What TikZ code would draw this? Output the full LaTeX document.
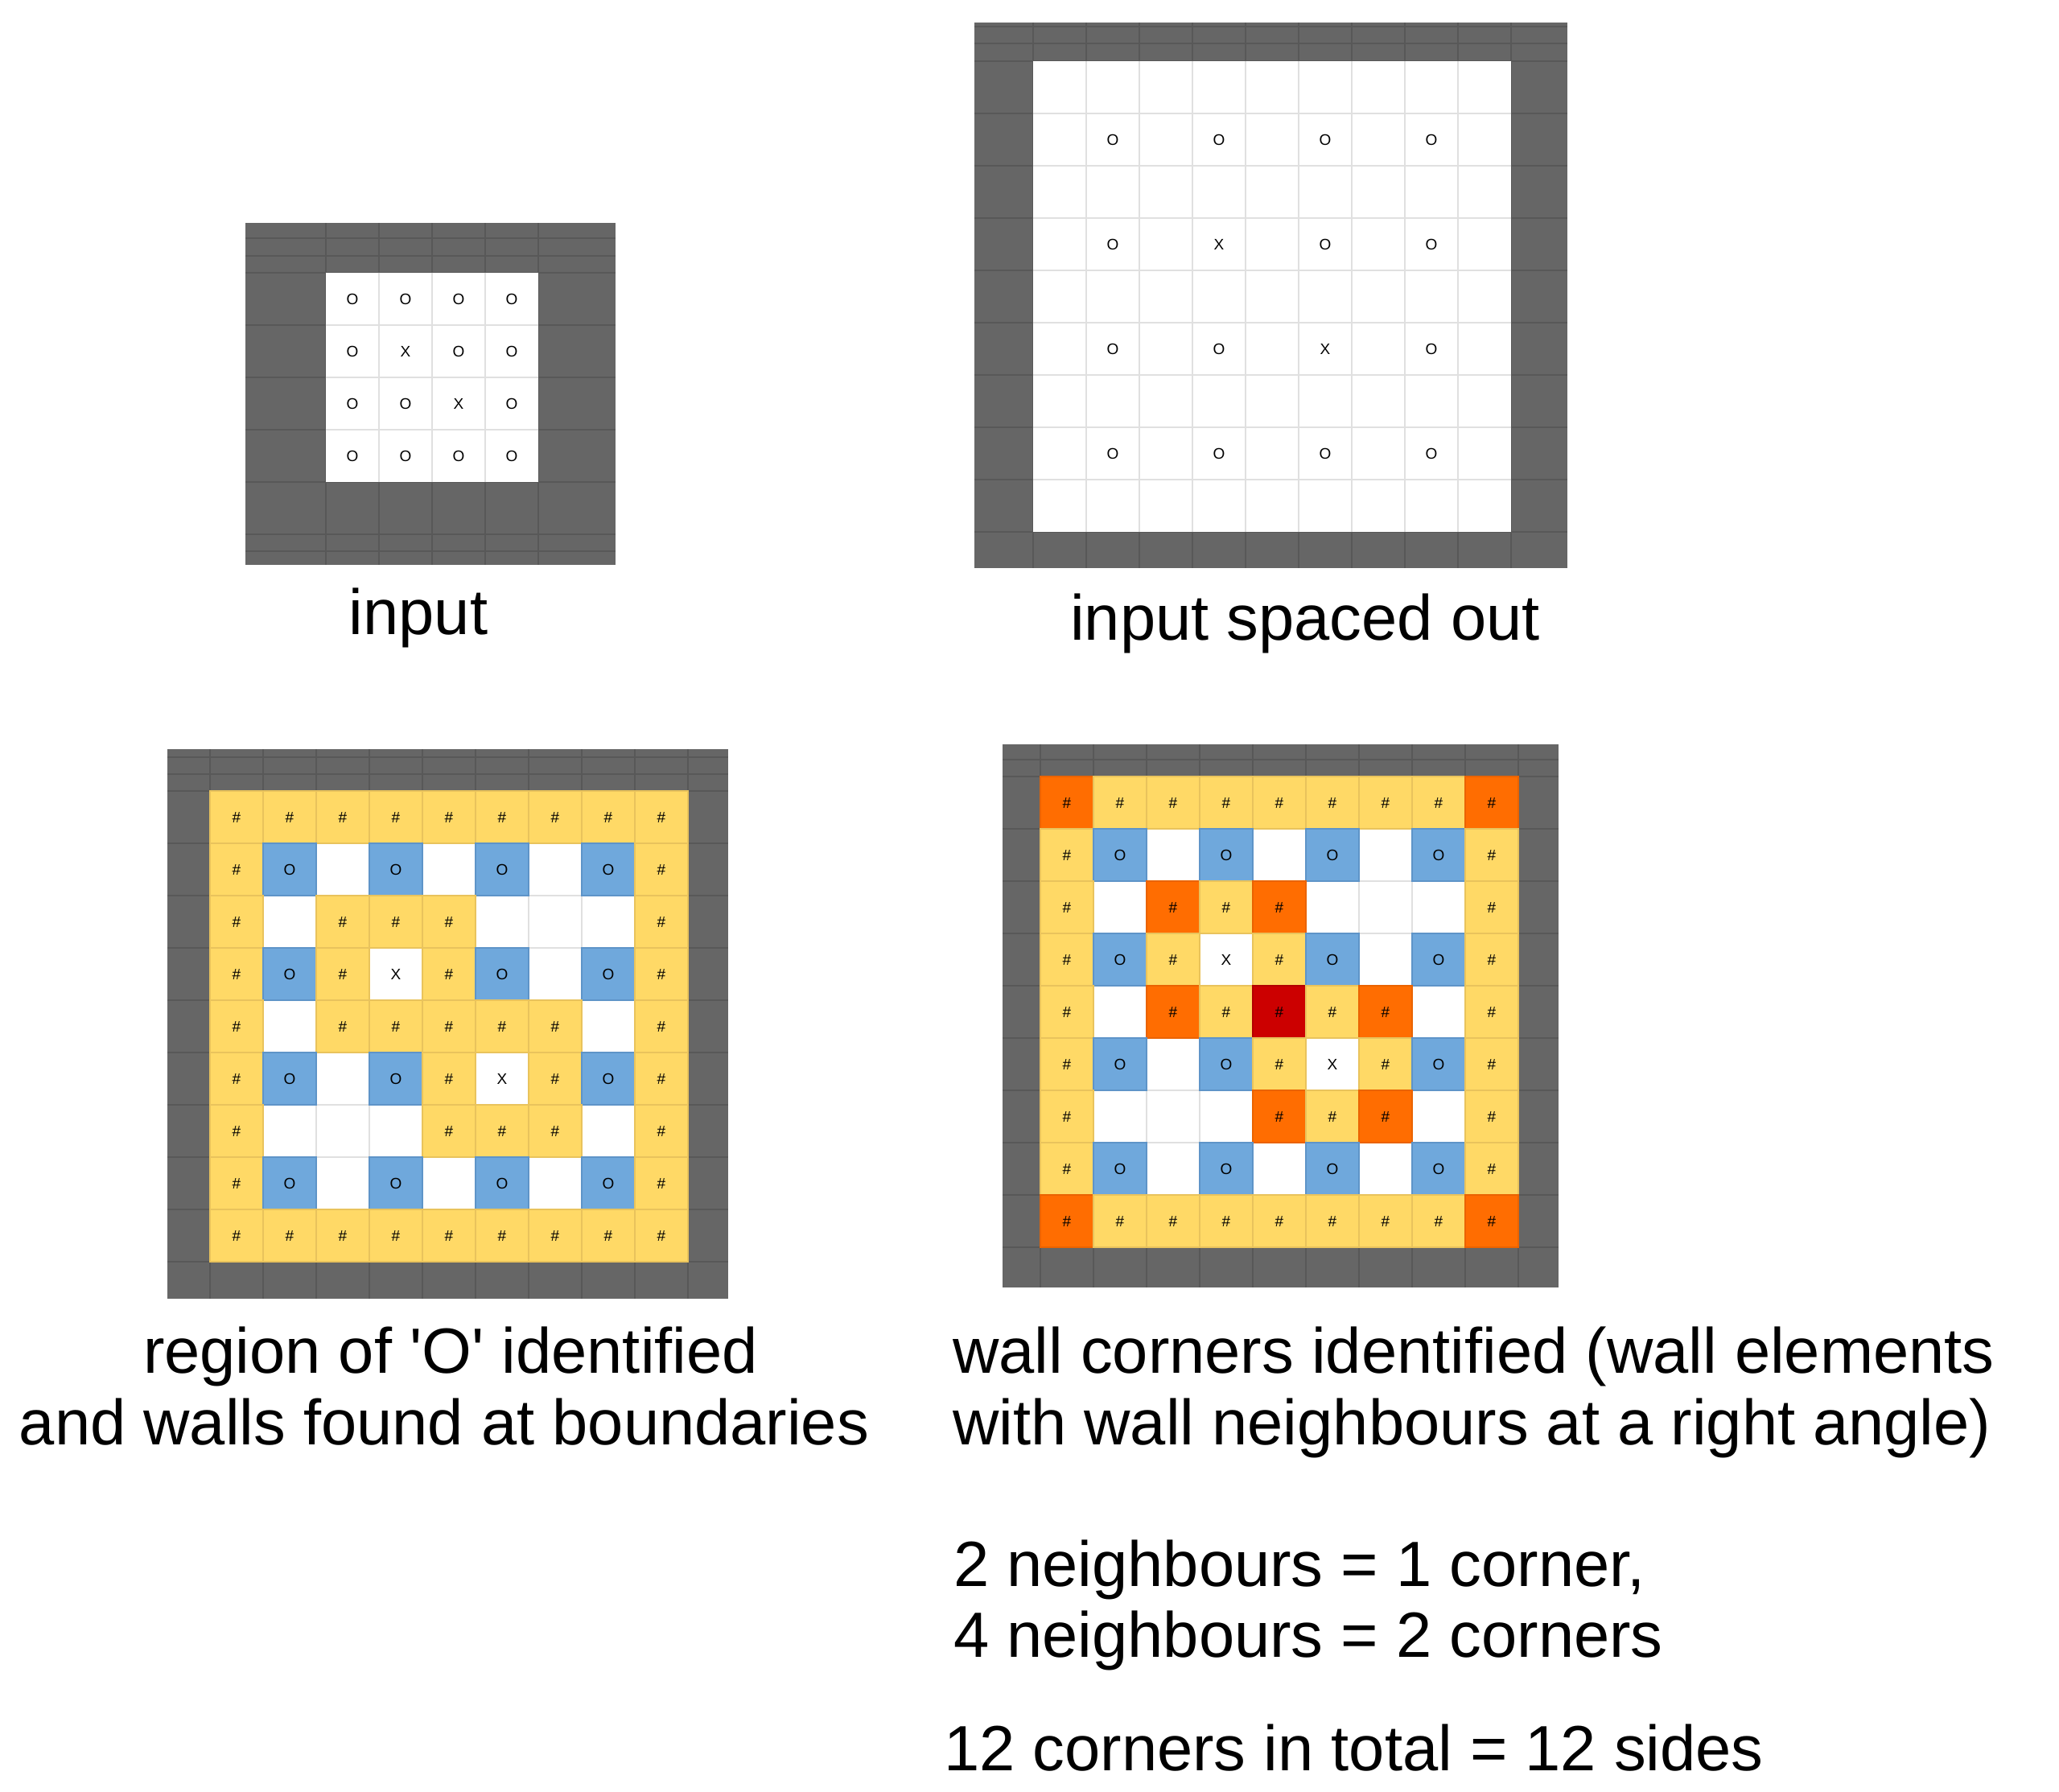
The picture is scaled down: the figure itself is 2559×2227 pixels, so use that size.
\documentclass[tikz,border=0pt]{standalone}
\usepackage{fontspec}
\setmainfont{Liberation Sans}
\newfontfamily\lbl{Liberation Sans}
\definecolor{dk}{HTML}{666666}
\definecolor{dkl}{HTML}{585858}
\definecolor{gl}{HTML}{E0E0E0}
\definecolor{yel}{HTML}{FFD966}
\definecolor{yelb}{HTML}{E9C35C}
\definecolor{blu}{HTML}{6FA8DC}
\definecolor{blub}{HTML}{5E94C8}
\definecolor{org}{HTML}{FF6D01}
\definecolor{orgb}{HTML}{EA6300}
\definecolor{drd}{HTML}{CC0000}
\definecolor{drdb}{HTML}{B30000}
\def\txtY{\#}\def\txtB{O}\def\txtX{X}\def\txtR{\#}\def\txtD{\#}
\begin{document}
\begin{tikzpicture}[x=1pt,y=-1pt,
  darkgrid/.style={draw=dkl, line width=1.2pt},
  lightgrid/.style={draw=gl, line width=1.3pt},
  cellY/.style={fill=yel, draw=yelb, line width=1.5pt},
  cellB/.style={fill=blu, draw=blub, line width=1.5pt},
  cellR/.style={fill=org, draw=orgb, line width=1.5pt},
  cellD/.style={fill=drd, draw=drdb, line width=1.5pt},
  cellW/.style={},
  cellX/.style={},
  celltxt/.style={font=\lbl\fontsize{19}{19}\selectfont, inner sep=0pt, text=black},
  biglabel/.style={font=\lbl\fontsize{79.5}{90}\selectfont, inner sep=0pt, text=black}]
\useasboundingbox (0,0) rectangle (2559,2227);
\fill[white] (0,0) rectangle (2559,2227);

% ---------- Panel 1: input ----------
\fill[dk] (305,277) rectangle (765,702);
\foreach \k in {0,...,4} {
  \draw[darkgrid] ({405+66*\k},277) -- ({405+66*\k},702);
  \draw[darkgrid] (305,{339+65*\k}) -- (765,{339+65*\k});
}
\foreach \yy in {296,318,664,685} \draw[darkgrid] (305,\yy) -- (765,\yy);
\fill[white] (405,339) rectangle (669,599);
\foreach \k in {1,...,3} {
  \draw[lightgrid] ({405+66*\k},339) -- ({405+66*\k},599);
  \draw[lightgrid] (405,{339+65*\k}) -- (669,{339+65*\k});
}
\foreach \row [count=\ri] in {{O,O,O,O},{O,X,O,O},{O,O,X,O},{O,O,O,O}}
  \foreach \ty [count=\ci] in \row
    \node[celltxt] (a-\ri-\ci) at ({405+66*(\ci-0.5)},{339+65*(\ri-0.5)}) {\ty};
\node[biglabel, anchor=base] (lab1) at (520,788) {input};

% ---------- Panel 2: input spaced out ----------
\fill[dk] (1211,28) rectangle (1948,706);
\foreach \k in {0,...,9} {
  \draw[darkgrid] ({1284+66*\k},28) -- ({1284+66*\k},706);
  \draw[darkgrid] (1211,{76+65*\k}) -- (1948,{76+65*\k});
}
\foreach \yy in {33,54} \draw[darkgrid] (1211,\yy) -- (1948,\yy);
\fill[white] (1284,76) rectangle (1878,661);
\foreach \k in {1,...,8} {
  \draw[lightgrid] ({1284+66*\k},76) -- ({1284+66*\k},661);
  \draw[lightgrid] (1284,{76+65*\k}) -- (1878,{76+65*\k});
}
\foreach \row [count=\ri] in {{O,O,O,O},{O,X,O,O},{O,O,X,O},{O,O,O,O}}
  \foreach \ty [count=\ci] in \row
    \node[celltxt] (b-\ri-\ci) at ({1284+66*(2*\ci-0.5)},{76+65*(2*\ri-0.5)}) {\ty};
\node[biglabel, anchor=base] (lab2) at (1622,795) {input spaced out};

% ---------- Panel 3: region identified ----------
\fill[dk] (208,931) rectangle (905,1614);
\foreach \k in {0,...,9} {
  \draw[darkgrid] ({261+66*\k},931) -- ({261+66*\k},1614);
  \draw[darkgrid] (208,{983+65*\k}) -- (905,{983+65*\k});
}
\foreach \yy in {941,962} \draw[darkgrid] (208,\yy) -- (905,\yy);
\fill[white] (261,983) rectangle (855,1568);
\foreach \k in {1,...,8} {
  \draw[lightgrid] ({261+66*\k},983) -- ({261+66*\k},1568);
  \draw[lightgrid] (261,{983+65*\k}) -- (855,{983+65*\k});
}
\foreach \row [count=\ri] in {
  {Y,Y,Y,Y,Y,Y,Y,Y,Y},
  {Y,B,W,B,W,B,W,B,Y},
  {Y,W,Y,Y,Y,W,W,W,Y},
  {Y,B,Y,X,Y,B,W,B,Y},
  {Y,W,Y,Y,Y,Y,Y,W,Y},
  {Y,B,W,B,Y,X,Y,B,Y},
  {Y,W,W,W,Y,Y,Y,W,Y},
  {Y,B,W,B,W,B,W,B,Y},
  {Y,Y,Y,Y,Y,Y,Y,Y,Y}}
  \foreach \ty [count=\ci] in \row {
    \path[cell\ty] ({261+66*(\ci-1)},{983+65*(\ri-1)}) rectangle ++(66,65);
  }
\foreach \row [count=\ri] in {
  {Y,Y,Y,Y,Y,Y,Y,Y,Y},
  {Y,B,W,B,W,B,W,B,Y},
  {Y,W,Y,Y,Y,W,W,W,Y},
  {Y,B,Y,X,Y,B,W,B,Y},
  {Y,W,Y,Y,Y,Y,Y,W,Y},
  {Y,B,W,B,Y,X,Y,B,Y},
  {Y,W,W,W,Y,Y,Y,W,Y},
  {Y,B,W,B,W,B,W,B,Y},
  {Y,Y,Y,Y,Y,Y,Y,Y,Y}}
  \foreach \ty [count=\ci] in \row {
    \expandafter\ifx\csname txt\ty\endcsname\relax\else
      \node[celltxt] (c-\ri-\ci) at ({261+66*(\ci-0.5)},{983+65*(\ri-0.5)}) {\csname txt\ty\endcsname};
    \fi
  }
\node[biglabel, anchor=base] (lab3a) at (560,1706) {region of 'O' identified};
\node[biglabel, anchor=base] (lab3b) at (552,1795) {and walls found at boundaries};

% ---------- Panel 4: wall corners ----------
\fill[dk] (1246,925) rectangle (1937,1600);
\foreach \k in {0,...,9} {
  \draw[darkgrid] ({1293+66*\k},925) -- ({1293+66*\k},1600);
  \draw[darkgrid] (1246,{965+65*\k}) -- (1937,{965+65*\k});
}
\foreach \yy in {944} \draw[darkgrid] (1246,\yy) -- (1937,\yy);
\fill[white] (1293,965) rectangle (1887,1550);
\foreach \k in {1,...,8} {
  \draw[lightgrid] ({1293+66*\k},965) -- ({1293+66*\k},1550);
  \draw[lightgrid] (1293,{965+65*\k}) -- (1887,{965+65*\k});
}
\foreach \row [count=\ri] in {
  {R,Y,Y,Y,Y,Y,Y,Y,R},
  {Y,B,W,B,W,B,W,B,Y},
  {Y,W,R,Y,R,W,W,W,Y},
  {Y,B,Y,X,Y,B,W,B,Y},
  {Y,W,R,Y,D,Y,R,W,Y},
  {Y,B,W,B,Y,X,Y,B,Y},
  {Y,W,W,W,R,Y,R,W,Y},
  {Y,B,W,B,W,B,W,B,Y},
  {R,Y,Y,Y,Y,Y,Y,Y,R}}
  \foreach \ty [count=\ci] in \row {
    \path[cell\ty] ({1293+66*(\ci-1)},{965+65*(\ri-1)}) rectangle ++(66,65);
  }
\foreach \row [count=\ri] in {
  {R,Y,Y,Y,Y,Y,Y,Y,R},
  {Y,B,W,B,W,B,W,B,Y},
  {Y,W,R,Y,R,W,W,W,Y},
  {Y,B,Y,X,Y,B,W,B,Y},
  {Y,W,R,Y,D,Y,R,W,Y},
  {Y,B,W,B,Y,X,Y,B,Y},
  {Y,W,W,W,R,Y,R,W,Y},
  {Y,B,W,B,W,B,W,B,Y},
  {R,Y,Y,Y,Y,Y,Y,Y,R}}
  \foreach \ty [count=\ci] in \row {
    \expandafter\ifx\csname txt\ty\endcsname\relax\else
      \node[celltxt] (d-\ri-\ci) at ({1293+66*(\ci-0.5)},{965+65*(\ri-0.5)}) {\csname txt\ty\endcsname};
    \fi
  }
\node[biglabel, anchor=base west] (lab4a) at (1184,1706) {wall corners identified (wall elements};
\node[biglabel, anchor=base west] (lab4b) at (1184,1795) {with wall neighbours at a right angle)};
\node[biglabel, anchor=base west] (lab4c) at (1185,1971) {2 neighbours = 1 corner,};
\node[biglabel, anchor=base west] (lab4d) at (1185,2059) {4 neighbours = 2 corners};
\node[biglabel, anchor=base west] (lab4e) at (1173,2200) {12 corners in total = 12 sides};
\end{tikzpicture}
\end{document}
